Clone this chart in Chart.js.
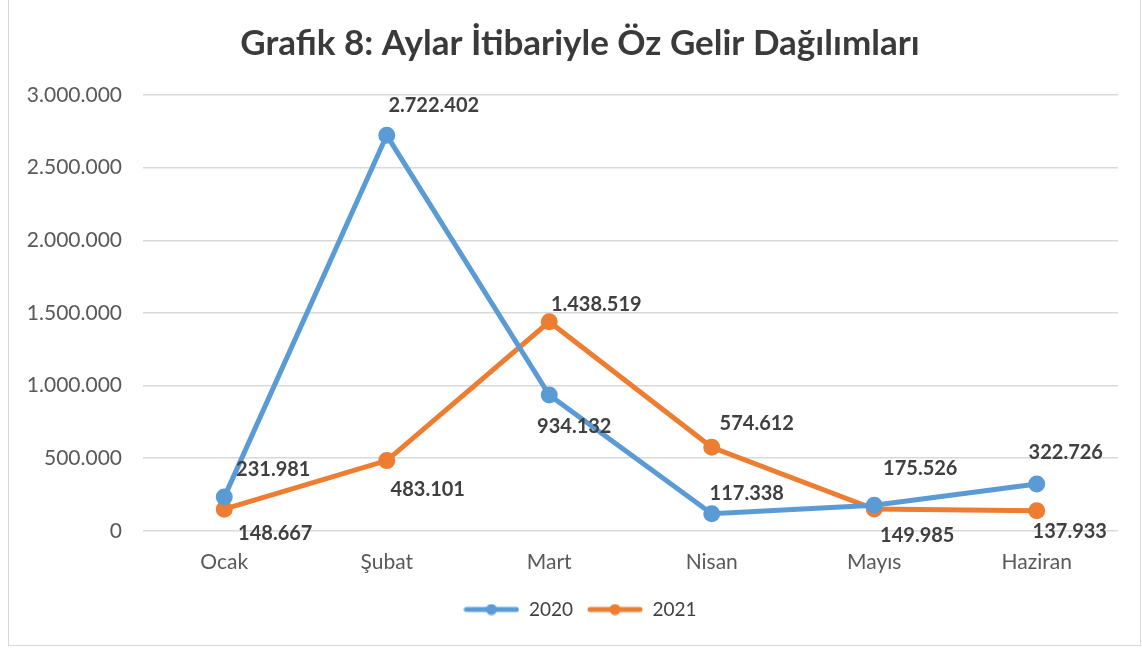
<!DOCTYPE html>
<html>
<head>
<meta charset="utf-8">
<script src="https://cdn.jsdelivr.net/npm/chart.js@4/dist/chart.umd.min.js"></script>
<style>
  body { margin: 0; background: #fff; }
  #frame { position: absolute; left: 8px; top: -1px; width: 1131px; height: 645px; border: 1px solid #d9d9d9; }
  #wrap { position: absolute; left: 0; top: 0; width: 1142px; height: 648px; }
</style>
</head>
<body>
<div id="frame"></div>
<div id="wrap"><canvas id="myChart" width="1142" height="648"></canvas></div>
<script>
  const months = ['Ocak', 'Şubat', 'Mart', 'Nisan', 'Mayıs', 'Haziran'];
  const values2020 = [231981, 2722402, 934132, 117338, 175526, 322726];
  const values2021 = [148667, 483101, 1438519, 574612, 149985, 137933];
  const yTicks = [0, 500000, 1000000, 1500000, 2000000, 2500000, 3000000];

  // where each value label sits relative to its point
  const labelOffsets2020 = [[49, -28], [47, -30], [25, 31], [35, -20], [46, -37], [29, -31]];
  const labelOffsets2021 = [[51, 24], [41, 29], [47, -17], [45, -24], [43, 27], [33, 21]];

  const blue = '#5b9bd5';
  const orange = '#ed7d31';

  const fmt = v => v.toLocaleString('de-DE');

  function legendIcon(color) {
    const c = document.createElement('canvas');
    c.width = 56; c.height = 12;
    const g = c.getContext('2d');
    g.strokeStyle = color;
    g.lineWidth = 5;
    g.lineCap = 'round';
    g.beginPath(); g.moveTo(3, 6); g.lineTo(53, 6); g.stroke();
    g.fillStyle = color;
    g.beginPath(); g.arc(28, 6, 5.5, 0, Math.PI * 2); g.fill();
    return c;
  }

  const valueLabels = {
    id: 'valueLabels',
    afterDatasetsDraw(chart) {
      const ctx = chart.ctx;
      ctx.save();
      ctx.font = 'bold 20px Lato';
      ctx.fillStyle = '#404040';
      ctx.textAlign = 'center';
      ctx.textBaseline = 'middle';
      chart.data.datasets.forEach((ds, i) => {
        const meta = chart.getDatasetMeta(i);
        meta.data.forEach((pt, j) => {
          const off = ds.labelOffsets[j];
          ctx.fillText(fmt(ds.data[j]), pt.x + off[0], pt.y + off[1]);
        });
      });
      ctx.restore();
    }
  };

  // y tick labels drawn by hand so they can hang left of the axis box unclipped
  const yLabels = {
    id: 'yLabels',
    afterDraw(chart) {
      const ctx = chart.ctx;
      const y = chart.scales.y;
      ctx.save();
      ctx.font = '21px Lato';
      ctx.fillStyle = '#595959';
      ctx.textAlign = 'right';
      ctx.textBaseline = 'middle';
      yTicks.forEach(v => {
        ctx.fillText(fmt(v), y.right - 21, y.getPixelForValue(v));
      });
      ctx.restore();
    }
  };

  const ctx1 = document.getElementById('myChart').getContext('2d');

  const lineChart = new Chart(ctx1, {
    type: 'line',
    data: {
      labels: months,
      datasets: [{
        label: '2020',
        data: values2020,
        labelOffsets: labelOffsets2020,
        borderColor: blue,
        backgroundColor: blue,
        borderWidth: 5,
        pointRadius: 6,
        pointHoverRadius: 6,
        tension: 0,
        legendIcon: legendIcon(blue)
      },
      {
        label: '2021',
        data: values2021,
        labelOffsets: labelOffsets2021,
        borderColor: orange,
        backgroundColor: orange,
        borderWidth: 5,
        pointRadius: 6,
        pointHoverRadius: 6,
        tension: 0,
        legendIcon: legendIcon(orange)
      }]
    },
    options: {
      responsive: false,
      animation: false,
      layout: { padding: { left: 42, right: 24, top: 0, bottom: 19 } },
      plugins: {
        title: {
          display: true,
          text: 'Grafik 8: Aylar İtibariyle Öz Gelir Dağılımları',
          color: '#3a3a3a',
          font: { family: 'Lato', size: 35, weight: 'bold' },
          padding: { top: 23, bottom: 30 }
        },
        legend: {
          position: 'bottom',
          labels: {
            usePointStyle: true,
            pointStyleWidth: 56,
            boxHeight: 12,
            color: '#404040',
            font: { family: 'Lato', size: 19 },
            padding: 14,
            generateLabels(chart) {
              return chart.data.datasets.map((ds, i) => ({
                text: ds.label,
                pointStyle: ds.legendIcon,
                fillStyle: ds.borderColor,
                strokeStyle: ds.borderColor,
                lineWidth: 0,
                fontColor: '#404040',
                datasetIndex: i,
                hidden: false
              }));
            }
          }
        },
        tooltip: { enabled: false }
      },
      scales: {
        x: {
          offset: true,
          grid: { display: false },
          border: { display: false },
          ticks: { color: '#595959', font: { family: 'Lato', size: 21 }, padding: 11 }
        },
        y: {
          min: 0,
          max: 3000000,
          afterFit(scale) { scale.width = 101; },
          afterBuildTicks(scale) { scale.ticks = yTicks.map(v => ({ value: v })); },
          grid: { color: '#d9d9d9', lineWidth: 1.5, drawTicks: false },
          border: { display: false },
          ticks: { display: false }
        }
      }
    },
    plugins: [valueLabels, yLabels]
  });
</script>
</body>
</html>
